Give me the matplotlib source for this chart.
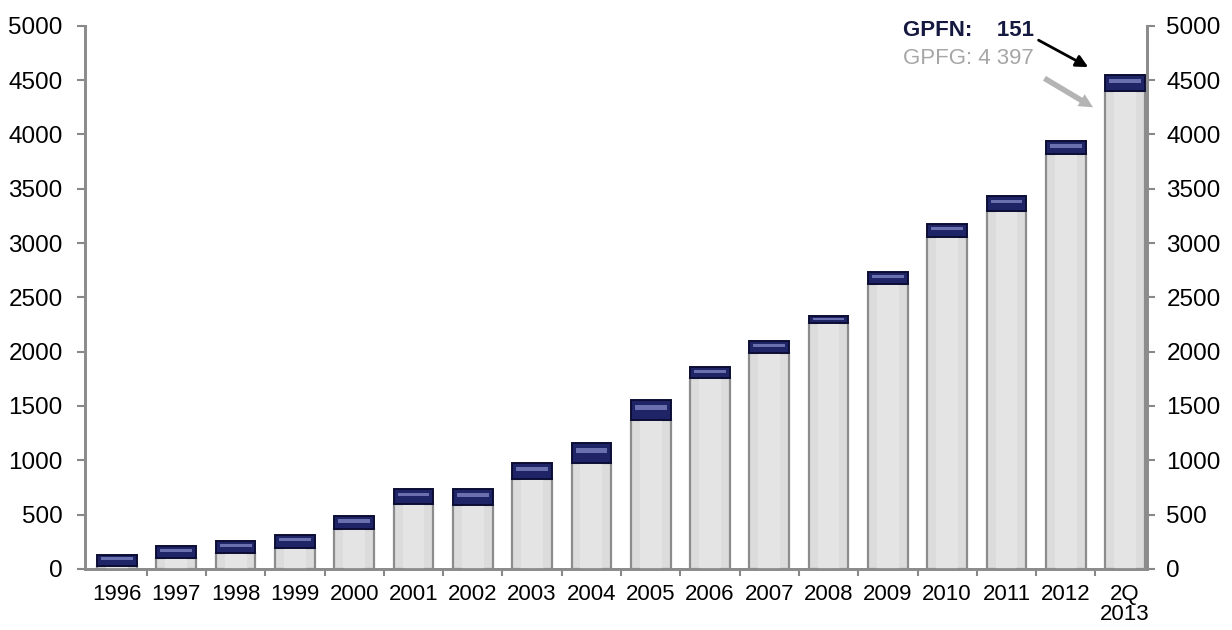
import numpy as np
import matplotlib.pyplot as plt

plt.rcParams['font.family'] = ['Liberation Sans', 'DejaVu Sans']

# Data (billion NOK)
years = ['1996', '1997', '1998', '1999', '2000', '2001', '2002', '2003', '2004',
         '2005', '2006', '2007', '2008', '2009', '2010', '2011', '2012', '2Q\n2013']
gpfg = [30, 101, 144, 196, 368, 598, 589, 828, 978,
        1371, 1754, 1990, 2260, 2622, 3057, 3296, 3816, 4397]
gpfn = [100, 111, 116, 120, 117, 138, 144, 144, 178,
        184, 102, 110, 70, 113, 123, 138, 124, 151]

yticks = [0, 500, 1000, 1500, 2000, 2500, 3000, 3500, 4000, 4500, 5000]

x = np.arange(len(years))
gpfg = np.array(gpfg)
gpfn = np.array(gpfn)
w = 0.67

fig = plt.figure(figsize=(12.32, 6.30), dpi=100)
ax = fig.add_axes([0.069, 0.097, 0.862, 0.862])

# GPFG bars (grey cylinders)
ax.bar(x, gpfg, width=w, color='#dcdcdc', edgecolor='#8c8c8c', linewidth=1.6, zorder=2)
ax.bar(x, gpfg, width=w * 0.55, color='#e4e4e4', linewidth=0, zorder=3)
# GPFN on top (navy)
ax.bar(x, gpfn, bottom=gpfg, width=w, color='#1f2466', edgecolor='#0b0d33', linewidth=1.4, zorder=3)
ax.bar(x, gpfn * 0.25, bottom=gpfg + gpfn * 0.5, width=w * 0.8, color='#6a70ad', linewidth=0, zorder=4)

ax.set_xlim(-0.54, 17.37)
ax.set_ylim(0, 5000)
ax.set_yticks(yticks)
ax.set_yticklabels([str(v) for v in yticks], fontsize=17.5)
ax.set_xticks(x)
ax.set_xticklabels(years, fontsize=16, linespacing=0.9)
ax.tick_params(axis='x', length=0, pad=11)
ax.set_xticks(x[:-1] + 0.5, minor=True)
ax.tick_params(axis='x', which='minor', length=5, color='#888888', width=1.5, direction='out')
ax.tick_params(axis='y', length=6, color='#888888', width=1.5, pad=10)

ax2 = ax.twinx()
ax2.set_ylim(0, 5000)
ax2.set_yticks(yticks)
ax2.set_yticklabels([str(v) for v in yticks], fontsize=17.5)
ax2.tick_params(axis='y', length=6, color='#888888', width=1.5, pad=8)

for a in (ax, ax2):
    a.spines['top'].set_visible(False)
    for s in ('left', 'right', 'bottom'):
        a.spines[s].set_color('#8c8c8c')
        a.spines[s].set_linewidth(2)

last = len(years) - 1
ax.text(13.25, 4960, f'GPFN:    {gpfn[last]}', fontsize=16, fontweight='bold',
        color='#15193f', ha='left', va='center')
ax.text(13.25, 4700, f'GPFG: {gpfg[last] // 1000} {gpfg[last] % 1000}', fontsize=16,
        color='#a6a6a6', ha='left', va='center')
ax.annotate('', xy=(16.42, gpfg[last] + gpfn[last] + 60), xytext=(15.5, 4880),
            arrowprops=dict(arrowstyle='-|>', color='black', lw=2, mutation_scale=18))
ax.annotate('', xy=(16.5, gpfg[last] - 160), xytext=(15.6, 4530),
            arrowprops=dict(arrowstyle='simple', color='#b4b4b4', lw=0, mutation_scale=20))

fig.savefig('out.png', dpi=100)
